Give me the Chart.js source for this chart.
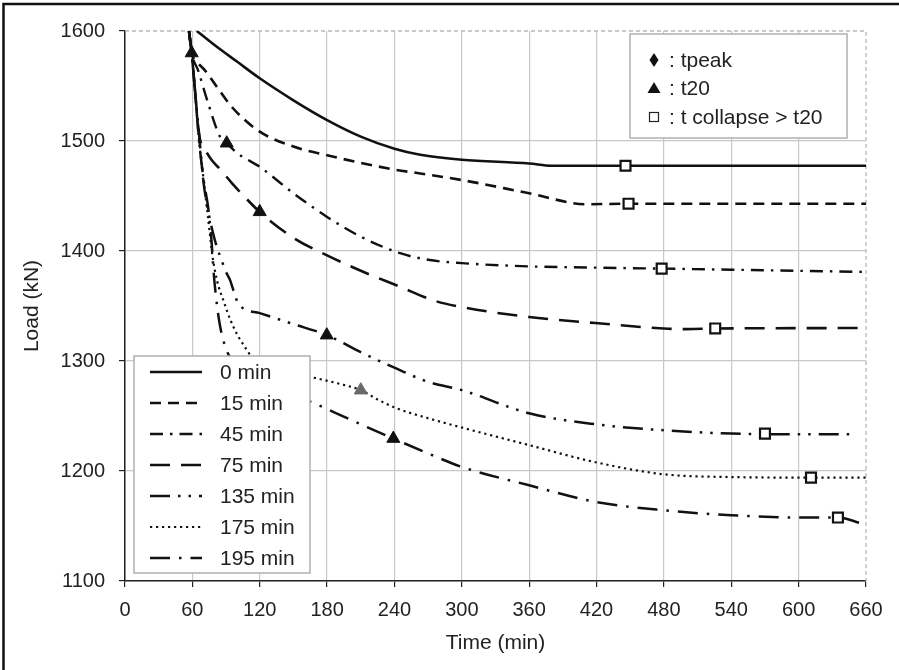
<!DOCTYPE html>
<html>
<head>
<meta charset="utf-8">
<script src="https://cdn.jsdelivr.net/npm/chart.js@4.4.1/dist/chart.umd.min.js"></script>
<style>
  html, body { margin: 0; padding: 0; background: #fff; }
  #wrap { position: relative; width: 899px; height: 670px; }
</style>
</head>
<body>
<div id="wrap"><canvas id="loadChart" width="899" height="670"></canvas></div>
<script>
const FONT = "'Liberation Sans', Arial, sans-serif";

const seriesLabels = ["0 min", "15 min", "45 min", "75 min", "135 min", "175 min", "195 min"];

// load (kN) against time (min), one pair of arrays per fire delay
const time0 = [64, 80, 100, 120, 150, 180, 210, 240, 263, 300, 360, 380, 420, 660];
const load0 = [1600, 1587, 1572, 1557, 1537, 1519, 1504, 1493, 1487.5, 1483, 1479.5, 1477.5, 1477.5, 1477.5];

const time15 = [57, 59.4, 64, 71, 82, 96, 120, 150, 180, 240, 263, 300, 360, 411, 448, 660];
const load15 = [1600, 1580, 1572, 1564.5, 1549, 1530, 1508.5, 1495, 1487, 1474, 1470.5, 1464.5, 1452.5, 1442.5, 1443, 1443];

const time45 = [57, 59.4, 65, 74, 84.6, 90.6, 100, 120, 150, 180, 210, 245, 270, 300, 360, 411, 478, 540, 600, 660];
const load45 = [1600, 1580, 1564.5, 1534.5, 1504, 1498, 1489, 1476.5, 1452.5, 1431, 1413, 1398, 1392, 1389, 1386, 1385, 1384, 1383, 1382, 1381];

const time75 = [57, 59.4, 62, 66, 72, 77, 85, 95, 104, 120, 150, 180, 210, 245, 275, 300, 360, 419, 480, 500, 526, 660];
const load75 = [1600, 1580, 1550, 1506, 1491, 1483, 1474, 1462, 1452, 1435.5, 1412, 1396, 1382, 1367.5, 1355, 1349, 1340, 1334.5, 1329.5, 1329, 1329.5, 1330];

const time135 = [57, 59.4, 62, 66, 70, 74, 78, 82, 86, 89, 93.6, 97, 101, 120, 150, 180, 210, 242, 270, 300, 360, 419, 480, 540, 570, 650];
const load135 = [1600, 1580, 1550, 1506, 1462, 1437, 1418, 1403, 1392, 1383, 1373.5, 1363, 1352, 1343.5, 1333.5, 1323.5, 1308, 1293, 1281, 1273.5, 1252.5, 1242.5, 1237, 1234, 1233.5, 1233.5];

const time175 = [57, 59.4, 62, 66, 70, 74, 78, 82, 88, 94, 100, 106, 112, 120, 135, 150, 165, 190, 210, 225, 242, 270, 300, 360, 419, 480, 540, 611, 660];
const load175 = [1600, 1580, 1550, 1500, 1465, 1430, 1395, 1373, 1354, 1337, 1324, 1314, 1305, 1298, 1292, 1288.5, 1285.5, 1279.5, 1273.5, 1265, 1257, 1248, 1239.5, 1223.5, 1208, 1197, 1194.5, 1194, 1194];

const time195 = [57, 59.4, 62, 66, 70, 74, 77, 79, 82, 85, 89, 94, 100, 120, 140, 165, 200, 239, 270, 300, 360, 419, 480, 540, 600, 635, 655];
const load195 = [1600, 1580, 1550, 1500, 1465, 1440, 1410, 1380, 1350, 1330, 1314, 1302, 1293, 1281, 1273, 1263, 1247, 1229.5, 1216, 1203.7, 1187, 1172, 1164.3, 1159.8, 1157.7, 1157.7, 1152.7];

// t20 points (triangles) and collapse points (open squares)
const t20Time = [59.4, 90.6, 120, 179.7, 210, 239];
const t20Load = [1580, 1498, 1435.6, 1323.5, 1273.5, 1229.5];
const t20Colors = ["#111", "#111", "#111", "#111", "#6a6a6a", "#111"];

const collapseTime = [445.8, 448.5, 478, 525.7, 570, 611, 635];
const collapseLoad = [1477.5, 1443, 1384, 1329.6, 1234, 1194, 1157.7];

const xTicks = [0, 60, 120, 180, 240, 300, 360, 420, 480, 540, 600, 660];
const yTicks = [1100, 1200, 1300, 1400, 1500, 1600];

const markerLabels = [": tpeak", ": t20", ": t collapse > t20"];

const allTimes = [time0, time15, time45, time75, time135, time175, time195];
const allLoads = [load0, load15, load45, load75, load135, load175, load195];

const lineStyles = [
    { dash: [], width: 2.6 },
    { dash: [11, 7], width: 2.6 },
    { dash: [13, 7, 2.5, 7], width: 2.4 },
    { dash: [20, 11], width: 2.6 },
    { dash: [20, 8, 2.5, 8, 2.5, 8], width: 2.5 },
    { dash: [2.2, 3.8], width: 2.2 },
    { dash: [20, 9, 2.5, 9], width: 2.5 }
];

function toPoints(ts, ls) {
    return ts.map((t, i) => ({ x: t, y: ls[i] }));
}

const lineDatasets = seriesLabels.map((label, i) => ({
    label: label,
    data: toPoints(allTimes[i], allLoads[i]),
    showLine: true,
    borderColor: "#111",
    borderWidth: lineStyles[i].width,
    borderDash: lineStyles[i].dash,
    pointRadius: 0,
    cubicInterpolationMode: "monotone",
    order: 2
}));

const markerDatasets = [
    {
        label: "t20",
        data: toPoints(t20Time, t20Load),
        showLine: false,
        pointStyle: "triangle",
        pointRadius: 7.5,
        pointBackgroundColor: t20Colors,
        pointBorderColor: t20Colors,
        pointBorderWidth: 1,
        order: 1
    },
    {
        label: "t collapse",
        data: toPoints(collapseTime, collapseLoad),
        showLine: false,
        pointStyle: "rect",
        pointRadius: 7,
        pointBackgroundColor: "#fff",
        pointBorderColor: "#111",
        pointBorderWidth: 2.2,
        order: 0
    }
];

// legend boxes drawn inside the plot
const lineLegend = { x: 134, y: 356, w: 176, h: 217, rowTop: 372, rowGap: 31, lineFrom: 150, lineTo: 202, textX: 220 };
const markerLegend = { x: 630, y: 34, w: 217, h: 104, rows: [60, 88, 117], markX: 654, textX: 669 };

const extrasPlugin = {
    id: "extras",
    beforeDatasetsDraw(chart) {
        const { ctx, chartArea: a } = chart;
        ctx.save();
        ctx.strokeStyle = "#b8b8b8";
        ctx.lineWidth = 1.3;
        ctx.setLineDash([4, 3]);
        ctx.beginPath();
        ctx.moveTo(a.left, a.top);
        ctx.lineTo(a.right, a.top);
        ctx.lineTo(a.right, a.bottom);
        ctx.stroke();
        ctx.restore();
    },
    afterDraw(chart) {
        const ctx = chart.ctx;
        ctx.save();

        // series legend
        const L = lineLegend;
        ctx.fillStyle = "#fff";
        ctx.fillRect(L.x, L.y, L.w, L.h);
        ctx.strokeStyle = "#b0b0b0";
        ctx.lineWidth = 1.5;
        ctx.strokeRect(L.x, L.y, L.w, L.h);
        ctx.font = "21px " + FONT;
        ctx.textBaseline = "middle";
        seriesLabels.forEach((label, i) => {
            const y = L.rowTop + i * L.rowGap;
            ctx.strokeStyle = "#111";
            ctx.lineWidth = lineStyles[i].width;
            ctx.setLineDash(lineStyles[i].dash);
            ctx.beginPath();
            ctx.moveTo(L.lineFrom, y);
            ctx.lineTo(L.lineTo, y);
            ctx.stroke();
            ctx.setLineDash([]);
            ctx.fillStyle = "#222";
            ctx.fillText(label, L.textX, y + 1);
        });

        // marker legend
        const M = markerLegend;
        ctx.fillStyle = "#fff";
        ctx.fillRect(M.x, M.y, M.w, M.h);
        ctx.strokeStyle = "#b0b0b0";
        ctx.lineWidth = 1.5;
        ctx.strokeRect(M.x, M.y, M.w, M.h);

        ctx.fillStyle = "#111";
        let y = M.rows[0];
        ctx.beginPath();
        ctx.moveTo(M.markX, y - 7);
        ctx.lineTo(M.markX + 4.5, y);
        ctx.lineTo(M.markX, y + 7);
        ctx.lineTo(M.markX - 4.5, y);
        ctx.closePath();
        ctx.fill();

        y = M.rows[1];
        ctx.beginPath();
        ctx.moveTo(M.markX, y - 6);
        ctx.lineTo(M.markX + 6.5, y + 5);
        ctx.lineTo(M.markX - 6.5, y + 5);
        ctx.closePath();
        ctx.fill();

        y = M.rows[2];
        ctx.strokeStyle = "#222";
        ctx.lineWidth = 1.2;
        ctx.strokeRect(M.markX - 4.5, y - 4.5, 9, 9);

        ctx.fillStyle = "#222";
        ctx.font = "21px " + FONT;
        markerLabels.forEach((label, i) => {
            ctx.fillText(label, M.textX, M.rows[i] + 1);
        });

        // outer frame (left and top edges)
        ctx.strokeStyle = "#111";
        ctx.lineWidth = 2.5;
        ctx.beginPath();
        ctx.moveTo(3.5, 670);
        ctx.lineTo(3.5, 4);
        ctx.lineTo(899, 4);
        ctx.stroke();
        ctx.restore();
    }
};

new Chart(document.getElementById("loadChart"), {
    type: "scatter",
    data: { datasets: [...markerDatasets, ...lineDatasets] },
    options: {
        responsive: false,
        animation: false,
        devicePixelRatio: 1,
        layout: { padding: { left: 0, top: 31, right: 33, bottom: 0 } },
        plugins: { legend: { display: false }, tooltip: { enabled: false } },
        scales: {
            x: {
                type: "linear",
                min: 0,
                max: 660,
                afterBuildTicks: s => { s.ticks = xTicks.map(v => ({ value: v })); },
                afterFit: s => { s.height = 89; },
                ticks: { font: { size: 20, family: FONT }, color: "#222", padding: 11, maxRotation: 0, autoSkip: false, callback: v => String(v) },
                grid: {
                    color: c => (c.tick && c.tick.value === 660) ? "rgba(0,0,0,0)" : "#c8c8c8",
                    tickColor: "#222",
                    tickLength: 6,
                    lineWidth: 1.2
                },
                border: { color: "#222", width: 1.5 },
                title: { display: true, text: "Time (min)", font: { size: 21, family: FONT }, color: "#222", padding: { top: 0, bottom: 14 } }
            },
            y: {
                min: 1100,
                max: 1600,
                afterBuildTicks: s => { s.ticks = yTicks.map(v => ({ value: v })); },
                afterFit: s => { s.width = 125; },
                ticks: { font: { size: 20, family: FONT }, color: "#222", padding: 14, callback: v => String(v) },
                grid: {
                    color: c => (c.tick && c.tick.value === 1600) ? "rgba(0,0,0,0)" : "#c8c8c8",
                    tickColor: "#222",
                    tickLength: 6,
                    lineWidth: 1.2
                },
                border: { color: "#222", width: 1.5 },
                title: { display: true, text: "Load (kN)", font: { size: 21, family: FONT }, color: "#222", padding: { top: 20, bottom: 8 } }
            }
        }
    },
    plugins: [extrasPlugin]
});
</script>
</body>
</html>
